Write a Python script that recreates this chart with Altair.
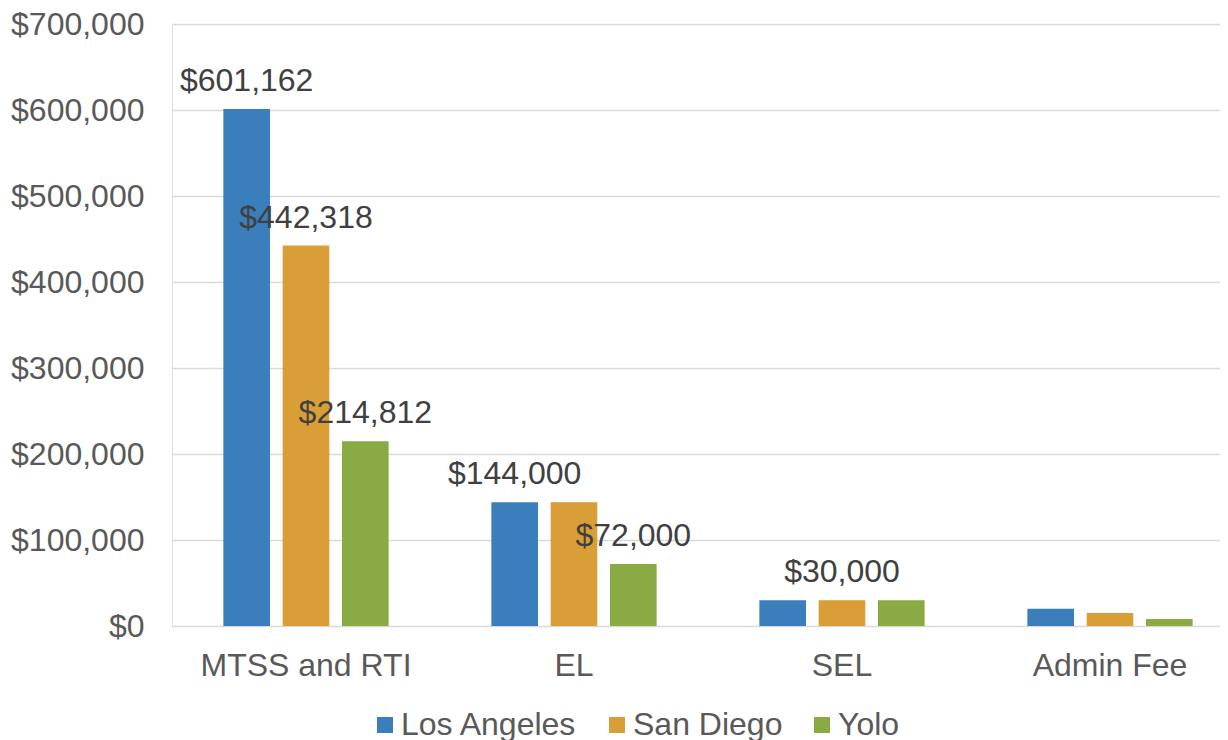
import altair as alt
import pandas as pd

categories = ["MTSS and RTI", "EL", "SEL", "Admin Fee"]
series = ["Los Angeles", "San Diego", "Yolo"]
los_angeles = [601162, 144000, 30000, 20000]
san_diego = [442318, 144000, 30000, 15000]
yolo = [214812, 72000, 30000, 8000]
# which bars carry a visible data label in the original
show_la = [True, True, False, False]
show_sd = [True, False, True, False]
show_yolo = [True, True, False, False]
colors = ["#3A7EBB", "#D99E38", "#8AAA43"]
y_ticks = [0, 100000, 200000, 300000, 400000, 500000, 600000, 700000]

rows = []
for vals, shows, name in [(los_angeles, show_la, "Los Angeles"),
                          (san_diego, show_sd, "San Diego"),
                          (yolo, show_yolo, "Yolo")]:
    for c, v, s in zip(categories, vals, shows):
        rows.append({"category": c, "series": name, "value": v, "show": s})
df = pd.DataFrame(rows)

FONT = "Liberation Sans"

x_enc = alt.X("category:N", sort=categories,
              scale=alt.Scale(range=[0, 1072], paddingInner=0.336, paddingOuter=0.168),
              axis=alt.Axis(title=None, labelFontSize=32, labelColor="#595959",
                            labelFont=FONT, ticks=False, tickSize=0, domain=False,
                            labelPadding=24, labelAngle=0, grid=False, labelLimit=0))
xoff_enc = alt.XOffset("series:N", sort=series,
                       scale=alt.Scale(paddingInner=0.214, paddingOuter=0.107))
y_enc = alt.Y("value:Q",
              scale=alt.Scale(domain=[0, 700000], nice=False),
              axis=alt.Axis(title=None, values=y_ticks, format="$,.0f",
                            labelFontSize=32, labelColor="#595959", labelFont=FONT,
                            ticks=False, tickSize=0, domain=False, labelPadding=28,
                            gridColor="#D9D9D9", gridWidth=1.5, labelLimit=0))

bars = alt.Chart(df).mark_bar().encode(
    x=x_enc,
    xOffset=xoff_enc,
    y=y_enc,
    color=alt.Color("series:N", sort=series,
                    scale=alt.Scale(domain=series, range=colors),
                    legend=alt.Legend(title=None, orient="none", legendX=197, legendY=685,
                                      direction="horizontal", symbolType="square",
                                      symbolSize=256, symbolStrokeWidth=0,
                                      labelFontSize=32, labelFont=FONT,
                                      labelColor="#595959", columnPadding=23,
                                      labelOffset=0, padding=0, labelLimit=0)),
)

labels = alt.Chart(df).transform_filter("datum.show").mark_text(
    fontSize=32, font=FONT, color="#404040", baseline="alphabetic", dy=-18
).encode(
    x=alt.X("category:N", sort=categories),
    xOffset=alt.XOffset("series:N", sort=series),
    y=alt.Y("value:Q"),
    text=alt.Text("value:Q", format="$,.0f"),
)

chart = (bars + labels).properties(
    width=1048, height=602,
    autosize=alt.AutoSizeParams(type="none"),
    padding={"left": 164, "top": 16, "right": 0, "bottom": 114},
).configure_view(stroke=None).configure(background="white")

chart.save("out.html", embed_options={"renderer": "svg", "actions": False})
